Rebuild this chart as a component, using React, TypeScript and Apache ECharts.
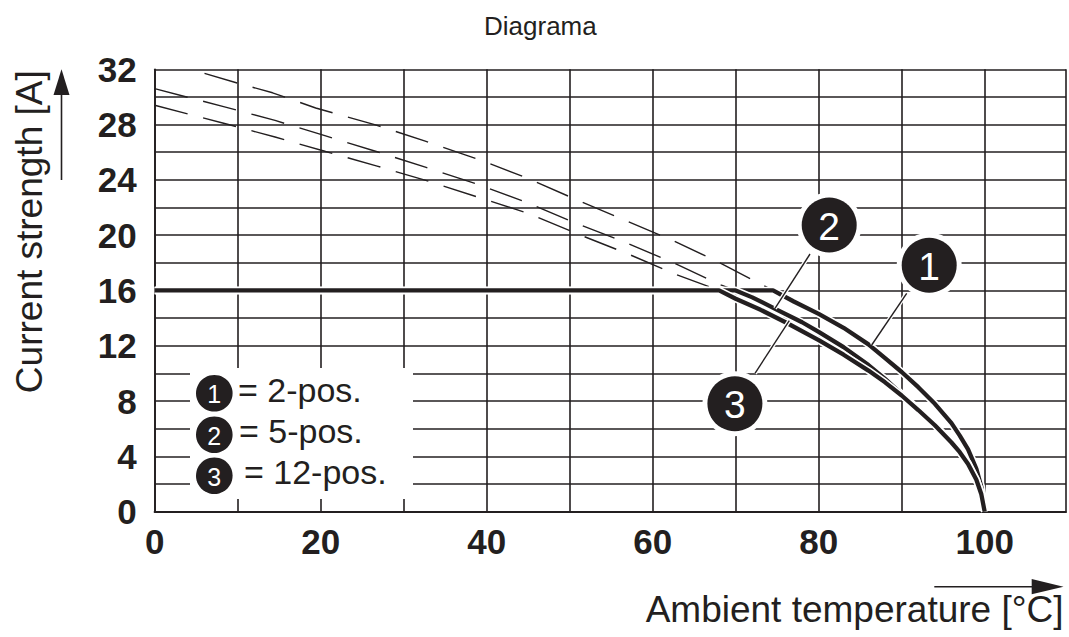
import React, { useEffect, useRef } from "react";
import * as echarts from "echarts";

const xTickLabels = ["0", "20", "40", "60", "80", "100"];
const yTickLabels = ["0", "4", "8", "12", "16", "20", "24", "28", "32"];

const curveNumbers = ["1", "2", "3"];
const legendLabels = ["= 2-pos.", "= 5-pos.", "= 12-pos."];

// 2-pos. (curve 1)
const curve1Dashed = [
  [6, 31.7], [10, 31.0], [14.2, 30.3], [19.4, 29.2], [26.5, 28.0], [32.6, 26.8],
  [38.7, 25.55], [44.6, 24.2], [50.3, 22.7], [56.2, 21.2], [62.1, 19.7], [67.9, 18.06],
  [74.5, 16],
];
const curve1Solid = [
  [0, 16], [74.5, 16], [77, 15.2], [80, 14.3], [83, 13.3], [86, 12.1], [88, 11.1],
  [90, 10.1], [92, 9.0], [94, 7.8], [96, 6.4], [97, 5.5], [98, 4.5], [99, 3.1],
  [99.6, 1.8], [100, 0],
];

// 5-pos. (curve 2)
const curve2Dashed = [
  [0, 30.6], [8.3, 29.3], [14.5, 28.3], [20.5, 27.2], [26.7, 26.05], [32.7, 24.9],
  [38.8, 23.7], [44.7, 22.4], [50.6, 20.9], [56.6, 19.5], [62.5, 18.0], [68.2, 16.4],
  [70, 16],
];
const curve2Solid = [
  [0, 16], [70, 16], [72, 15.5], [75, 14.6], [78, 13.7], [80, 13.0], [83, 11.9],
  [86, 10.6], [88, 9.6], [90, 8.5], [92, 7.4], [94, 6.3], [96, 5.0], [97, 4.3],
  [98, 3.5], [99, 2.3], [99.6, 1.3], [100, 0],
];

// 12-pos. (curve 3)
const curve3Dashed = [
  [0, 29.4], [8.3, 28.1], [14.5, 27.1], [20.6, 26.05], [26.8, 25.0], [33, 23.9],
  [39.2, 22.7], [44.9, 21.6], [50.9, 20.1], [56.8, 18.7], [62.6, 17.2], [68, 16],
];
const curve3Solid = [
  [0, 16], [68, 16], [70, 15.4], [73, 14.6], [76, 13.7], [80, 12.4], [83, 11.35],
  [86, 10.2], [88, 9.35], [90, 8.4], [92, 7.35], [94, 6.25], [96, 5.0], [97, 4.3],
  [98, 3.45], [99, 2.3], [99.6, 1.25], [100, 0],
];

const INK = "#231f20";
const FONT = "'Liberation Sans', Arial, Helvetica, sans-serif";

export default function App() {
  const ref = useRef<HTMLDivElement>(null);

  useEffect(() => {
    if (!ref.current) return;
    const chart = echarts.init(ref.current, undefined, { renderer: "svg" });

    const solid = (name: string, data: number[][]) => [
      {
        type: "line",
        name: name + " halo",
        data,
        symbol: "none",
        silent: true,
        lineStyle: { color: "#ffffff", width: 7.5 },
      },
      {
        type: "line",
        name,
        data,
        symbol: "none",
        lineStyle: { color: INK, width: 4.3 },
      },
    ];
    const dashed = (name: string, data: number[][]) => ({
      type: "line",
      name,
      data,
      symbol: "none",
      lineStyle: { color: INK, width: 1.4, type: [34, 16] },
    });

    const graphics: any[] = [];
    // legend box
    graphics.push({
      type: "rect",
      z: 100,
      shape: { x: 190, y: 368, width: 223, height: 131 },
      style: { fill: "#ffffff" },
    });
    const legCy = [393.3, 434.7, 475.7];
    const legTy = [389.5, 431, 471.7];
    const legTx = [238, 239, 244];
    for (let i = 0; i < 3; i++) {
      graphics.push({
        type: "circle",
        z: 101,
        shape: { cx: 214.3, cy: legCy[i], r: 18.3 },
        style: { fill: INK },
      });
      graphics.push({
        type: "text",
        z: 102,
        x: 214.3,
        y: legCy[i] + 1,
        style: {
          text: curveNumbers[i],
          fill: "#ffffff",
          font: `25px ${FONT}`,
          align: "center",
          verticalAlign: "middle",
        },
      });
      graphics.push({
        type: "text",
        z: 102,
        x: legTx[i],
        y: legTy[i],
        style: {
          text: legendLabels[i],
          fill: INK,
          font: `34px ${FONT}`,
          align: "left",
          verticalAlign: "middle",
        },
      });
    }

    // leader lines
    const leaders = [
      [906.7, 293.3, 871.7, 345],
      [810, 254, 775, 308.3],
      [755, 373.3, 789.3, 320.7],
    ];
    leaders.forEach((l) => {
      graphics.push({
        type: "line",
        z: 100,
        shape: { x1: l[0], y1: l[1], x2: l[2], y2: l[3] },
        style: { stroke: "#ffffff", lineWidth: 4 },
      });
      graphics.push({
        type: "line",
        z: 101,
        shape: { x1: l[0], y1: l[1], x2: l[2], y2: l[3] },
        style: { stroke: INK, lineWidth: 1.4 },
      });
    });

    // numbered marker circles
    const markers = [
      [929.2, 265.2],
      [829.2, 225],
      [734.9, 403.7],
    ];
    markers.forEach((m, i) => {
      graphics.push({
        type: "circle",
        z: 102,
        shape: { cx: m[0], cy: m[1], r: 32.5 },
        style: { fill: "#ffffff" },
      });
      graphics.push({
        type: "circle",
        z: 103,
        shape: { cx: m[0], cy: m[1], r: 27.5 },
        style: { fill: INK },
      });
      graphics.push({
        type: "text",
        z: 104,
        x: m[0],
        y: m[1] + 1,
        style: {
          text: curveNumbers[i],
          fill: "#ffffff",
          font: `39px ${FONT}`,
          align: "center",
          verticalAlign: "middle",
        },
      });
    });

    // axis titles
    graphics.push({
      type: "text",
      z: 100,
      x: 29.5,
      y: 231.7,
      rotation: Math.PI / 2,
      style: {
        text: "Current strength [A]",
        fill: INK,
        font: `37px ${FONT}`,
        align: "center",
        verticalAlign: "middle",
      },
    });
    graphics.push({
      type: "text",
      z: 100,
      x: 1063.5,
      y: 609,
      style: {
        text: "Ambient temperature [°C]",
        fill: INK,
        font: `37px ${FONT}`,
        align: "right",
        verticalAlign: "middle",
      },
    });

    // arrows
    graphics.push({
      type: "line",
      z: 100,
      shape: { x1: 934.3, y1: 586.7, x2: 1035, y2: 586.7 },
      style: { stroke: INK, lineWidth: 1.6 },
    });
    graphics.push({
      type: "polygon",
      z: 100,
      shape: { points: [[1031.7, 579], [1063.5, 586.7], [1031.7, 594.3]] },
      style: { fill: INK },
    });
    graphics.push({
      type: "line",
      z: 100,
      shape: { x1: 61.5, y1: 180, x2: 61.5, y2: 92 },
      style: { stroke: INK, lineWidth: 1.6 },
    });
    graphics.push({
      type: "polygon",
      z: 100,
      shape: { points: [[53.5, 95], [61.5, 69.3], [69.5, 95]] },
      style: { fill: INK },
    });

    const labelStyle = {
      fontSize: 35,
      fontWeight: "bold",
      color: INK,
      fontFamily: FONT,
    };

    chart.setOption({
      animation: false,
      title: {
        text: "Diagrama",
        left: 484,
        top: 13,
        padding: 0,
        textStyle: { fontSize: 26, fontWeight: "normal", color: INK, fontFamily: FONT },
      },
      grid: { left: 154.7, top: 69.3, right: 0, bottom: 125.4, containLabel: false },
      xAxis: {
        type: "value",
        min: 0,
        max: 109.8,
        interval: 10,
        axisLine: { show: true, lineStyle: { color: INK, width: 2.2 } },
        axisTick: { show: false },
        splitLine: { show: true, lineStyle: { color: INK, width: 1.6 } },
        axisLabel: {
          ...labelStyle,
          margin: 30,
          verticalAlign: "middle",
          formatter: (v: number) => (xTickLabels.includes(String(v)) ? String(v) : ""),
        },
      },
      yAxis: {
        type: "value",
        min: 0,
        max: 32,
        interval: 2,
        axisLine: { show: true, lineStyle: { color: INK, width: 1.8 } },
        axisTick: { show: false },
        splitLine: { show: true, lineStyle: { color: INK, width: 1.6 } },
        axisLabel: {
          ...labelStyle,
          margin: 18,
          formatter: (v: number) => (yTickLabels.includes(String(v)) ? String(v) : ""),
        },
      },
      series: [
        dashed("2-pos. (extrapolated)", curve1Dashed),
        dashed("5-pos. (extrapolated)", curve2Dashed),
        dashed("12-pos. (extrapolated)", curve3Dashed),
        ...solid("2-pos.", curve1Solid),
        ...solid("5-pos.", curve2Solid),
        ...solid("12-pos.", curve3Solid),
      ],
      graphic: graphics,
    });

    return () => chart.dispose();
  }, []);

  return (
    <div
      ref={ref}
      style={{ position: "fixed", left: 0, top: 0, width: 1069, height: 637, background: "#ffffff" }}
    />
  );
}
